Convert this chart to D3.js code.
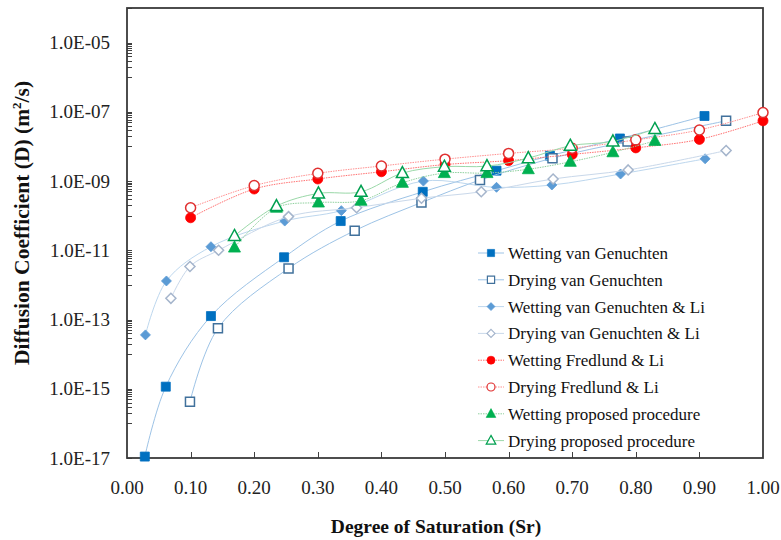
<!DOCTYPE html>
<html><head><meta charset="utf-8">
<script src="https://cdn.jsdelivr.net/npm/d3@7"></script>
<style>body{margin:0;background:#fff}svg{display:block}</style>
</head><body>
<svg id="c" width="781" height="540"></svg>
<script>
// ---- data ----
const wetVG_x = [0.028, 0.061, 0.132, 0.247, 0.336, 0.465, 0.581, 0.665, 0.775, 0.908];
const wetVG_y = [1.1e-17, 1.15e-15, 1.26e-13, 6.3e-12, 7.0e-11, 4.9e-10, 2.0e-9, 5.4e-9, 1.7e-8, 7.6e-8];
const dryVG_x = [0.099, 0.143, 0.254, 0.358, 0.463, 0.555, 0.669, 0.787, 0.942];
const dryVG_y = [4.2e-16, 5.6e-14, 3.0e-12, 3.7e-11, 2.4e-10, 1.07e-9, 4.6e-9, 1.4e-8, 5.5e-8];
const wetVGLi_x = [0.029, 0.062, 0.132, 0.248, 0.337, 0.466, 0.581, 0.668, 0.776, 0.909];
const wetVGLi_y = [3.6e-14, 1.3e-12, 1.27e-11, 7.0e-11, 1.4e-10, 1.0e-9, 6.6e-10, 7.7e-10, 1.6e-9, 4.4e-9];
const dryVGLi_x = [0.069, 0.099, 0.144, 0.254, 0.361, 0.463, 0.557, 0.670, 0.788, 0.942];
const dryVGLi_y = [4.1e-13, 3.4e-12, 1.0e-11, 9.4e-11, 1.7e-10, 3.2e-10, 4.9e-10, 1.15e-9, 2.1e-9, 7.6e-9];
const wetFL_x = [0.1, 0.2, 0.3, 0.4, 0.5, 0.6, 0.7, 0.8, 0.9, 1.0];
const wetFL_y = [8.7e-11, 5.9e-10, 1.15e-9, 1.86e-9, 3.0e-9, 3.9e-9, 5.9e-9, 9.1e-9, 1.6e-8, 5.5e-8];
const dryFL_x = [0.1, 0.2, 0.3, 0.4, 0.5, 0.6, 0.7, 0.8, 0.9, 1.0];
const dryFL_y = [1.7e-10, 7.4e-10, 1.67e-9, 2.73e-9, 4.3e-9, 6.3e-9, 8.9e-9, 1.55e-8, 3.0e-8, 9.5e-8];
const wetProp_x = [0.169, 0.235, 0.301, 0.368, 0.433, 0.499, 0.566, 0.631, 0.697, 0.764, 0.830];
const wetProp_y = [1.2e-11, 1.7e-10, 2.4e-10, 2.7e-10, 8.9e-10, 1.7e-9, 1.7e-9, 2.2e-9, 3.6e-9, 6.8e-9, 1.45e-8];
const dryProp_x = [0.169, 0.235, 0.301, 0.368, 0.433, 0.499, 0.566, 0.631, 0.697, 0.764, 0.830];
const dryProp_y = [2.6e-11, 1.9e-10, 4.4e-10, 4.9e-10, 1.7e-9, 2.6e-9, 2.7e-9, 4.6e-9, 1.05e-8, 1.4e-8, 3.2e-8];

const seriesNames = ["Wetting van Genuchten", "Drying van Genuchten", "Wetting van Genuchten & Li",
  "Drying van Genuchten & Li", "Wetting Fredlund & Li", "Drying Fredlund & Li",
  "Wetting proposed procedure", "Drying proposed procedure"];
const xTickValues = [0, 0.1, 0.2, 0.3, 0.4, 0.5, 0.6, 0.7, 0.8, 0.9, 1.0];
const yLabelExps = [-17, -15, -13, -11, -9, -7, -5];
const xTitle = "Degree of Saturation (Sr)";

// ---- styles ----
const styles = [
  {shape: "square", fill: "#0070C0", stroke: "#0070C0", line: "#9DC3E6", dash: null},
  {shape: "square", fill: "#fff", stroke: "#41719C", line: "#9DC3E6", dash: null},
  {shape: "diamond", fill: "#5B9BD5", stroke: "#5B9BD5", line: "#BDD7EE", dash: null},
  {shape: "diamond", fill: "#fff", stroke: "#A5B5CC", line: "#C9D8EA", dash: null},
  {shape: "circle", fill: "#FF0000", stroke: "#FF0000", line: "#FF7070", dash: "1.5,1"},
  {shape: "circle", fill: "#fff", stroke: "#E03030", line: "#FF9090", dash: "1.5,1"},
  {shape: "triangle", fill: "#00B050", stroke: "#00B050", line: "#8FD19E", dash: "1.5,1"},
  {shape: "triangle", fill: "#fff", stroke: "#00A050", line: "#9AD8A8", dash: null}
];
const data = [
  [wetVG_x, wetVG_y], [dryVG_x, dryVG_y], [wetVGLi_x, wetVGLi_y], [dryVGLi_x, dryVGLi_y],
  [wetFL_x, wetFL_y], [dryFL_x, dryFL_y], [wetProp_x, wetProp_y], [dryProp_x, dryProp_y]
].map(([xs, ys]) => xs.map((x, i) => ({x, y: ys[i]})));

const svg = d3.select("#c");
const L = 127, R = 763, T = 8, B = 458;
const x = d3.scaleLinear().domain([0, 1]).range([L, R]);
const y = d3.scaleLog().domain([1e-17, 1e-4]).range([B, T]);
const serif = "'Liberation Serif','Times New Roman',serif";

// axis ticks (inside)
const g = svg.append("g");
const yMinor = [];
yLabelExps.forEach(e => {
  yMinor.push(Math.pow(10, e));
  for (let k = 1; k <= 9; k++) yMinor.push(k * Math.pow(10, e + 1));
});
g.selectAll("line.yt").data(yMinor.filter(v => v >= 1e-17 && v <= 1e-4)).join("line")
  .attr("x1", L).attr("x2", L + 5)
  .attr("y1", d => Math.round(y(d)) + 0.5).attr("y2", d => Math.round(y(d)) + 0.5)
  .attr("stroke", "#404040").attr("stroke-width", 1);
g.selectAll("line.xt").data(xTickValues.slice(1, -1)).join("line")
  .attr("x1", d => Math.round(x(d)) + 0.5).attr("x2", d => Math.round(x(d)) + 0.5)
  .attr("y1", B).attr("y2", B - 6)
  .attr("stroke", "#404040").attr("stroke-width", 1);

// frame
svg.append("rect").attr("x", L).attr("y", T).attr("width", R - L).attr("height", B - T)
  .attr("fill", "none").attr("stroke", "#3a3a3a").attr("stroke-width", 1.8);

// tick labels
svg.selectAll("text.xl").data(xTickValues).join("text")
  .attr("x", d => x(d)).attr("y", B + 36).attr("text-anchor", "middle")
  .attr("font-family", serif).attr("font-size", 19).attr("fill", "#222")
  .text(d => d.toFixed(2));
svg.selectAll("text.yl").data(yLabelExps).join("text")
  .attr("x", 110).attr("y", d => y(Math.pow(10, d)) + 6.5).attr("text-anchor", "end")
  .attr("font-family", serif).attr("font-size", 19).attr("fill", "#222")
  .text(d => "1.0E-" + String(-d).padStart(2, "0"));

// axis titles
svg.append("text").attr("x", 436).attr("y", 533).attr("text-anchor", "middle")
  .attr("font-family", serif).attr("font-size", 19.5).attr("font-weight", "bold").attr("fill", "#111")
  .text(xTitle);
const yt = svg.append("text").attr("transform", "translate(29,223) rotate(-90)")
  .attr("text-anchor", "middle").attr("font-family", serif).attr("font-size", 21.5)
  .attr("font-weight", "bold").attr("fill", "#111");
yt.append("tspan").text("Diffusion Coefficient (D) (m");
yt.append("tspan").attr("font-size", 13).attr("dy", -8).text("2");
yt.append("tspan").attr("dy", 8).text("/s)");

// markers
function marker(sel, shape, st) {
  let p;
  if (shape === "square") p = "M-4.5,-4.5H4.5V4.5H-4.5Z";
  else if (shape === "diamond") p = "M0,-5L5,0L0,5L-5,0Z";
  else if (shape === "circle") p = "M5,0A5,5 0 1,1 -5,0A5,5 0 1,1 5,0Z";
  else p = "M0,-6.5L6,4.5L-6,4.5Z";
  sel.attr("d", p).attr("fill", st.fill).attr("stroke", st.stroke)
    .attr("stroke-width", st.fill === "#fff" ? 1.5 : 0.8);
}

const line = d3.line().x(d => x(d.x)).y(d => y(d.y)).curve(d3.curveCatmullRom.alpha(0.5));
const plot = svg.append("g");
data.forEach((pts, i) => {
  const st = styles[i];
  plot.append("path").attr("d", line(pts)).attr("fill", "none")
    .attr("stroke", st.line).attr("stroke-width", 1)
    .attr("stroke-dasharray", st.dash);
  plot.append("g").selectAll("path").data(pts).join("path")
    .attr("transform", d => `translate(${x(d.x)},${y(d.y)})`)
    .call(s => marker(s, st.shape, st));
});

// legend
const lg = svg.append("g");
seriesNames.forEach((name, i) => {
  const st = styles[i];
  const cy = 253 + i * 26.8;
  lg.append("line").attr("x1", 478).attr("x2", 504).attr("y1", cy).attr("y2", cy)
    .attr("stroke", st.line).attr("stroke-width", 1).attr("stroke-dasharray", st.dash);
  lg.append("path").attr("transform", `translate(491,${cy}) scale(0.8)`).call(s => marker(s, st.shape, st));
  lg.append("text").attr("x", 508).attr("y", cy + 6).attr("font-family", serif)
    .attr("font-size", 17).attr("fill", "#111").text(name);
});
</script>
</body></html>
